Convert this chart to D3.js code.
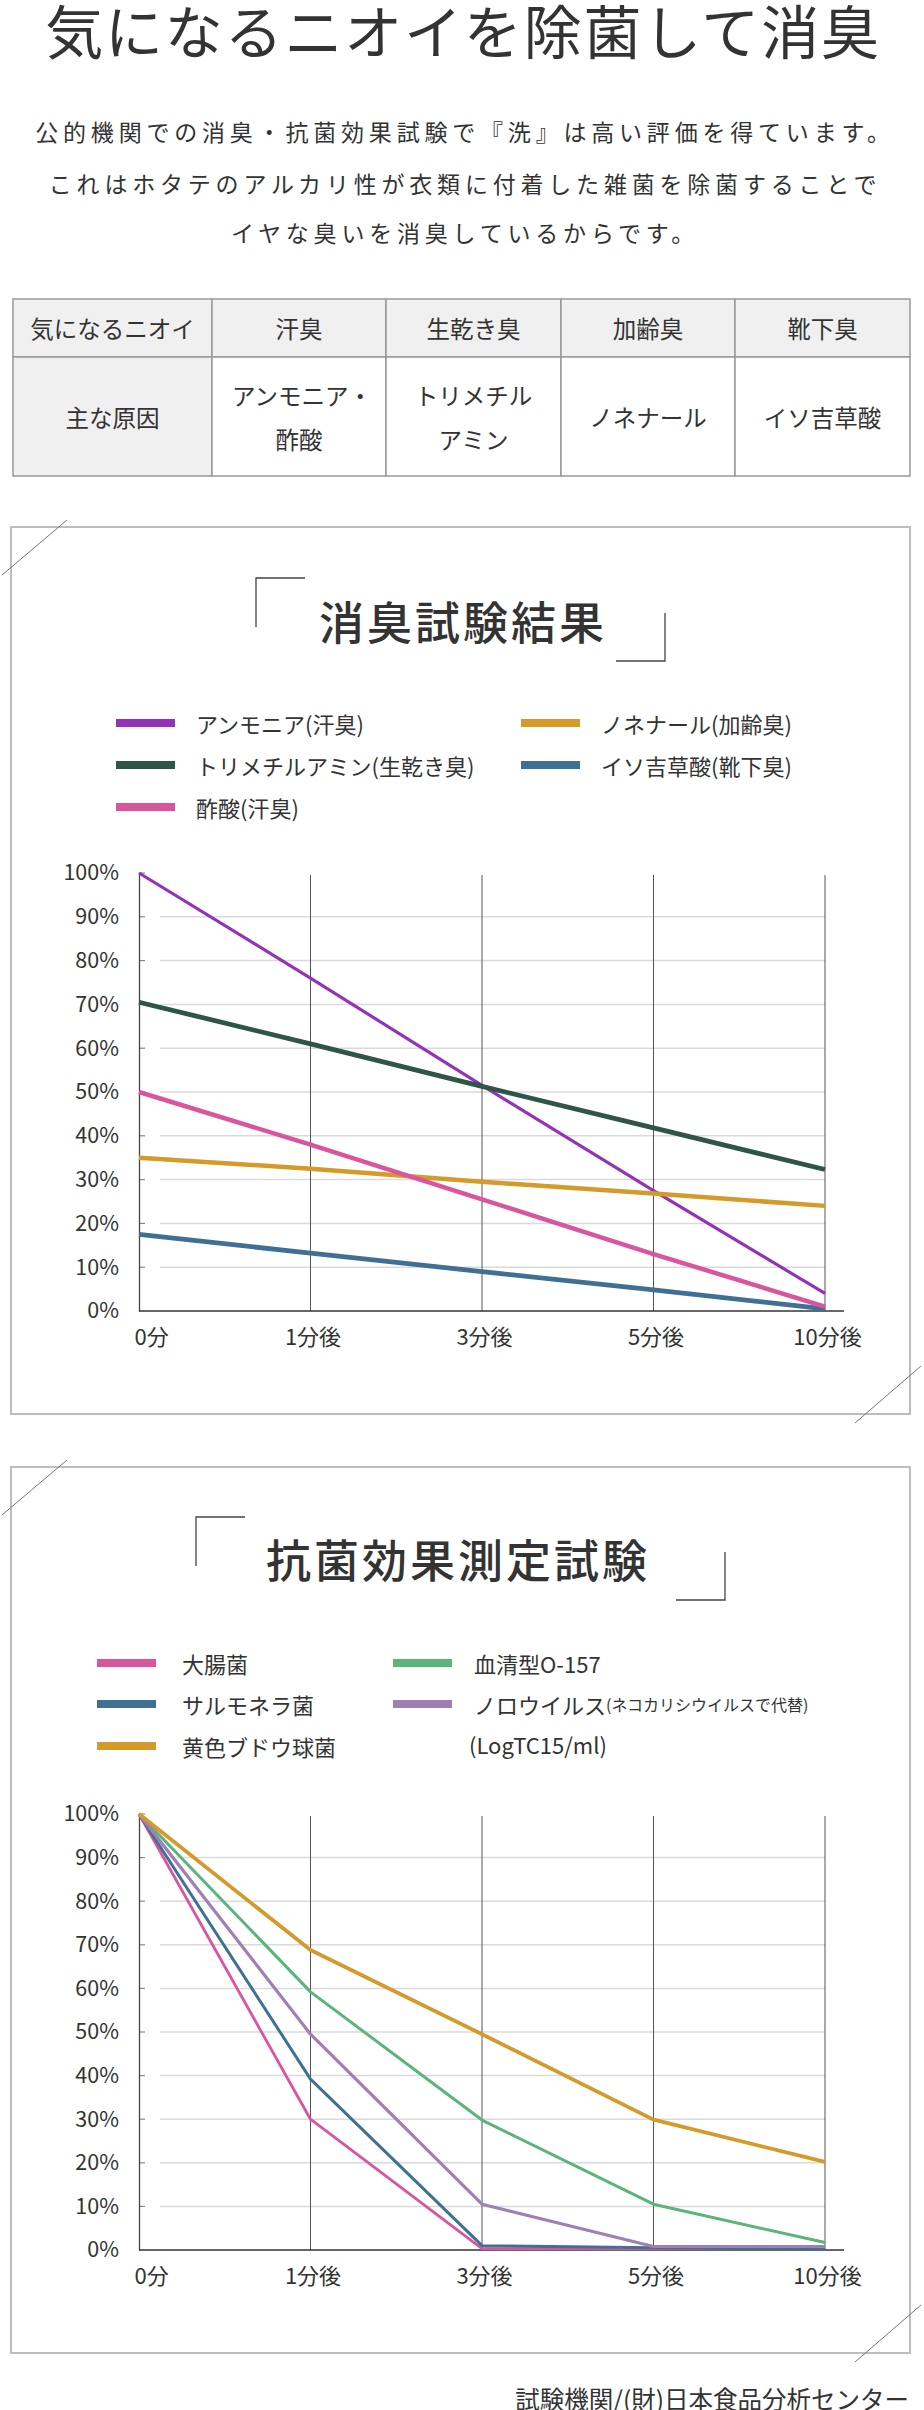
<!DOCTYPE html>
<html><head><meta charset="utf-8">
<script src="https://cdn.jsdelivr.net/npm/d3@7"></script>
<style>
body{margin:0;background:#fff;}
svg{display:block;}
text{font-family:"Noto Sans CJK JP","Noto Sans",sans-serif;fill:#333;}
</style>
</head><body><svg id="c" width="924" height="2410"></svg>
<script>
// ---------- data ----------
const pageTitle = "気になるニオイを除菌して消臭";
const introLines = [
  "公的機関での消臭・抗菌効果試験で『洗』は高い評価を得ています。",
  "これはホタテのアルカリ性が衣類に付着した雑菌を除菌することで",
  "イヤな臭いを消臭しているからです。"
];
const tableHeader = ["気になるニオイ", "汗臭", "生乾き臭", "加齢臭", "靴下臭"];
const tableCauses = [["主な原因"], ["アンモニア・", "酢酸"], ["トリメチル", "アミン"], ["ノネナール"], ["イソ吉草酸"]];

const timeCategories = ["0分", "1分後", "3分後", "5分後", "10分後"];
const percentTicks = [0, 10, 20, 30, 40, 50, 60, 70, 80, 90, 100];

const odorTitle = "消臭試験結果";
const odorNames = ["アンモニア(汗臭)", "ノネナール(加齢臭)", "トリメチルアミン(生乾き臭)", "イソ吉草酸(靴下臭)", "酢酸(汗臭)"];
const odorColors = ["#9334b8", "#d49a2a", "#2f5548", "#3f7094", "#d9569f"];
const ammonia = [100, 76, 51.5, 27.5, 4];
const nonenal = [35, 32.5, 29.5, 26.8, 24];
const trimethylamine = [70.5, 61, 51.3, 41.8, 32.3];
const isovalericAcid = [17.5, 13.2, 9, 4.8, 0.5];
const aceticAcid = [50, 38, 25.5, 13, 1];

const bacteriaTitle = "抗菌効果測定試験";
const bacteriaNames = ["大腸菌", "血清型O-157", "サルモネラ菌", "ノロウイルス", "黄色ブドウ球菌"];
const bacteriaNotes = ["", "", "", "(ネコカリシウイルスで代替)", ""];
const bacteriaUnit = "(LogTC15/ml)";
const bacteriaColors = ["#d9559f", "#5bb57a", "#3e7194", "#a07fb5", "#d49a2a"];
const eColi = [100, 30, 0.3, 0.3, 0.5];
const o157 = [100, 59.2, 29.8, 10.5, 1.7];
const salmonella = [100, 39.2, 1, 0.5, 0.3];
const norovirus = [100, 49.5, 10.5, 0.8, 0.8];
const staphylococcus = [100, 68.8, 49.5, 29.9, 20.2];

const footerText = "試験機関/(財)日本食品分析センター";

// ---------- drawing ----------
const svg = d3.select("#c");

svg.append("text").attr("x", 463).attr("y", 54).attr("text-anchor", "middle")
  .attr("font-size", 58).attr("font-weight", 400)
  .attr("letter-spacing", 1.8).text(pageTitle);

svg.selectAll("text.intro").data(introLines).enter().append("text")
  .attr("class", "intro").attr("x", 465).attr("y", (d, i) => [131, 183, 232][i])
  .attr("text-anchor", "middle").attr("dominant-baseline", "central")
  .attr("font-size", 23).attr("letter-spacing", 4.8).text(d => d);

// table
const colEdges = [13, 212, 386, 561, 735, 910];
const rowEdges = [299, 357, 476];
const tbl = svg.append("g");
tableHeader.forEach((h, i) => {
  const x0 = colEdges[i], x1 = colEdges[i + 1];
  tbl.append("rect").attr("x", x0).attr("y", rowEdges[0]).attr("width", x1 - x0).attr("height", rowEdges[1] - rowEdges[0])
    .attr("fill", "#f0f0f0").attr("stroke", "#999").attr("stroke-width", 1.5);
  tbl.append("text").attr("x", (x0 + x1) / 2).attr("y", (rowEdges[0] + rowEdges[1]) / 2)
    .attr("text-anchor", "middle").attr("dominant-baseline", "central").attr("font-size", 23.5).text(h);
  const lines = tableCauses[i];
  tbl.append("rect").attr("x", x0).attr("y", rowEdges[1]).attr("width", x1 - x0).attr("height", rowEdges[2] - rowEdges[1])
    .attr("fill", i === 0 ? "#f0f0f0" : "#fff").attr("stroke", "#999").attr("stroke-width", 1.5);
  const cy = (rowEdges[1] + rowEdges[2]) / 2;
  lines.forEach((t, j) => {
    tbl.append("text").attr("x", (x0 + x1) / 2 + (t.endsWith("・") ? 3 : 0))
      .attr("y", cy + (j - (lines.length - 1) / 2) * 44)
      .attr("text-anchor", "middle").attr("dominant-baseline", "central").attr("font-size", 23.5).text(t);
  });
});

function drawChart(cfg) {
  const g = svg.append("g");
  // frame
  g.append("rect").attr("x", 11).attr("y", cfg.boxTop).attr("width", 899).attr("height", cfg.boxBottom - cfg.boxTop)
    .attr("fill", "none").attr("stroke", "#bdbdbd").attr("stroke-width", 2);
  g.append("line").attr("x1", 2).attr("y1", cfg.boxTop + 48).attr("x2", 67).attr("y2", cfg.boxTop - 7)
    .attr("stroke", "#777").attr("stroke-width", 1);
  g.append("line").attr("x1", 855).attr("y1", cfg.boxBottom + 9).attr("x2", 921).attr("y2", cfg.boxBottom - 48)
    .attr("stroke", "#777").attr("stroke-width", 1);
  // title + brackets
  const b = cfg.bracket;
  g.append("path").attr("d", `M${b.x0 + 49},${b.y0}H${b.x0}V${b.y0 + 49}`).attr("fill", "none").attr("stroke", "#444").attr("stroke-width", 1.3);
  g.append("path").attr("d", `M${b.x1},${b.y1 - 48}V${b.y1}H${b.x1 - 49}`).attr("fill", "none").attr("stroke", "#444").attr("stroke-width", 1.3);
  g.append("text").attr("x", cfg.titleX).attr("y", cfg.titleY).attr("text-anchor", "middle")
    .attr("dominant-baseline", "central").attr("font-size", 45).attr("font-weight", 500)
    .attr("letter-spacing", 3).text(cfg.title);
  // legend
  cfg.names.forEach((n, i) => {
    const col = i % 2, row = Math.floor(i / 2);
    const ly = cfg.legRows[row];
    g.append("rect").attr("x", cfg.swX[col]).attr("y", ly - 4).attr("width", 59).attr("height", 8).attr("fill", cfg.colors[i]);
    const t = g.append("text").attr("x", cfg.txX[col]).attr("y", ly).attr("dominant-baseline", "central").attr("font-size", 22);
    t.append("tspan").text(n);
    if (cfg.notes && cfg.notes[i]) t.append("tspan").attr("font-size", 16).text(cfg.notes[i]);
  });
  if (cfg.unit) {
    g.append("text").attr("x", cfg.unitPos[0]).attr("y", cfg.unitPos[1]).attr("dominant-baseline", "central")
      .attr("font-size", 22).text(cfg.unit);
  }
  // scales
  const x = d3.scalePoint().domain(timeCategories).range([139, 825]);
  const y = d3.scaleLinear().domain([0, 100]).range([cfg.y0, cfg.y100]);
  // grid
  g.selectAll("line.grid").data(percentTicks.filter(v => v > 0 && v < 100)).enter().append("line")
    .attr("x1", 160).attr("x2", 825).attr("y1", d => y(d)).attr("y2", d => y(d))
    .attr("stroke", "#dadada").attr("stroke-width", 1.5);
  g.selectAll("line.tk").data(percentTicks.filter(v => v > 0)).enter().append("line")
    .attr("x1", 139).attr("x2", 145).attr("y1", d => y(d)).attr("y2", d => y(d))
    .attr("stroke", "#888").attr("stroke-width", 1.2);
  g.selectAll("line.vg").data(timeCategories.slice(1)).enter().append("line")
    .attr("x1", d => x(d)).attr("x2", d => x(d)).attr("y1", y(100) + 2).attr("y2", y(0))
    .attr("stroke", "#555").attr("stroke-width", 1);
  // axes
  const ya = g.append("g").attr("transform", "translate(139,0)")
    .call(d3.axisLeft(y).tickValues(percentTicks).tickFormat(d => d + "%").tickSize(0).tickPadding(20));
  ya.select(".domain").attr("stroke", "#444").attr("stroke-width", 1.3);
  ya.selectAll("text").attr("font-size", 21.5).attr("fill", "#333").attr("font-family", null);
  const xa = g.append("g").attr("transform", `translate(0,${y(0)})`)
    .call(d3.axisBottom(x).tickSize(0).tickPadding(18));
  xa.select(".domain").remove();
  xa.selectAll("text").attr("font-size", 22).attr("fill", "#333").attr("font-family", null)
    .attr("text-anchor", (d, i) => i === 0 ? "start" : "middle")
    .attr("dx", (d, i) => i === 0 ? -5 : 2);
  g.append("line").attr("x1", 139).attr("x2", 844).attr("y1", y(0)).attr("y2", y(0))
    .attr("stroke", "#333").attr("stroke-width", 1.5);
  // series
  const line = d3.line().x((d, i) => x(timeCategories[i])).y(d => y(d));
  cfg.series.forEach((s, i) => {
    g.append("path").datum(s).attr("d", line).attr("fill", "none")
      .attr("stroke", cfg.colors[i]).attr("stroke-width", cfg.widths[i]).attr("stroke-linejoin", "round");
  });
}

drawChart({
  boxTop: 527, boxBottom: 1414,
  bracket: { x0: 256, y0: 578, x1: 665, y1: 661 },
  title: odorTitle, titleX: 463, titleY: 620,
  names: odorNames, colors: odorColors,
  swX: [116, 521], txX: [196, 601], legRows: [723, 765, 807],
  y0: 1311, y100: 873,
  series: [ammonia, nonenal, trimethylamine, isovalericAcid, aceticAcid],
  widths: [3.2, 4.5, 4.8, 4.8, 4.5]
});

drawChart({
  boxTop: 1467, boxBottom: 2353,
  bracket: { x0: 196, y0: 1517, x1: 725, y1: 1600 },
  title: bacteriaTitle, titleX: 458, titleY: 1558,
  names: bacteriaNames, notes: bacteriaNotes, colors: bacteriaColors,
  swX: [97, 393], txX: [182, 474], legRows: [1663, 1704, 1746],
  unit: bacteriaUnit, unitPos: [469, 1744],
  y0: 2250, y100: 1814,
  series: [eColi, o157, salmonella, norovirus, staphylococcus],
  widths: [2.8, 3, 3, 3.2, 3.8]
});

svg.append("text").attr("x", 909).attr("y", 2398).attr("text-anchor", "end")
  .attr("dominant-baseline", "central").attr("font-size", 24.5).text(footerText);
</script>
</body></html>
